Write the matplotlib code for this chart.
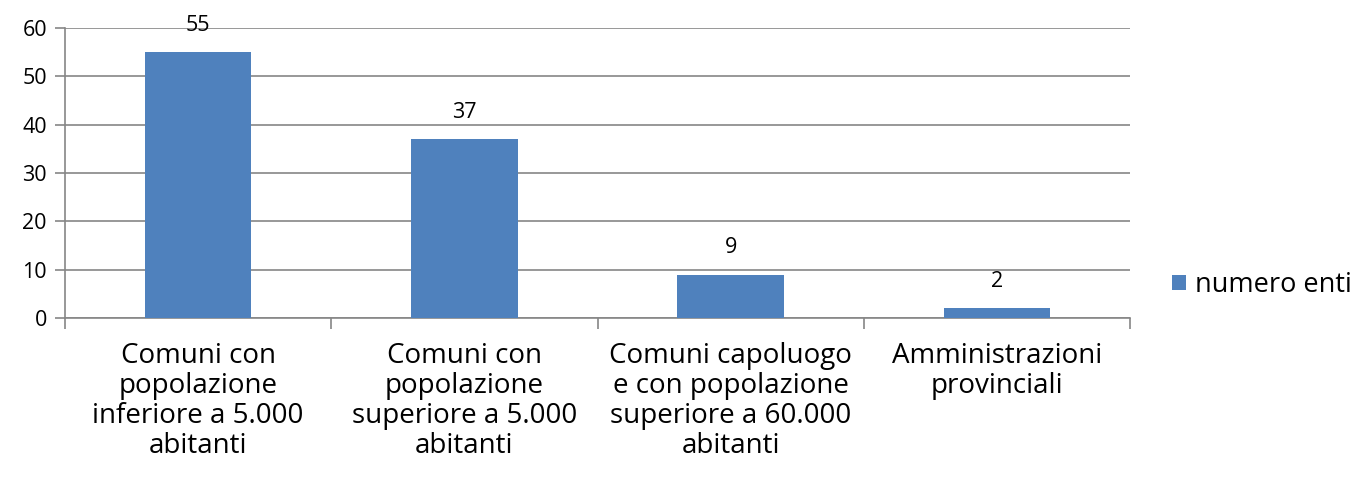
import matplotlib.pyplot as plt
import numpy as np

categorie = ["Comuni con\npopolazione\ninferiore a 5.000\nabitanti",
             "Comuni con\npopolazione\nsuperiore a 5.000\nabitanti",
             "Comuni capoluogo\ne con popolazione\nsuperiore a 60.000\nabitanti",
             "Amministrazioni\nprovinciali"]
numero_enti = [55, 37, 9, 2]
yticks = [0, 10, 20, 30, 40, 50, 60]

plt.rcParams['font.family'] = ['Open Sans', 'DejaVu Sans']
grey = '#868686'
blue = '#4f81bd'

fig = plt.figure(figsize=(13.64, 4.88), dpi=100)
ax = fig.add_axes([65/1364, 1-318/488, (1130-65)/1364, (318-28)/488])

x = np.arange(len(categorie))
bars = ax.bar(x, numero_enti, width=0.4, color=blue, label='numero enti', zorder=3)
for b, v in zip(bars, numero_enti):
    ax.text(b.get_x() + b.get_width()/2, v + 5.6, str(v), ha='center', va='center',
            fontsize=15.5, zorder=4)

ax.set_xlim(-0.5, len(categorie) - 0.5)
ax.set_ylim(0, 60)
ax.set_yticks(yticks)
ax.tick_params(axis='y', labelsize=15.5, length=7, color=grey, width=1.2, pad=6)
ax.set_xticks(np.arange(len(categorie) + 1) - 0.5)
ax.set_xticklabels([])
ax.set_xticks(x, minor=True)
ax.set_xticklabels(categorie, minor=True, fontsize=20, linespacing=1.1)
ax.tick_params(axis='x', which='major', length=8, color=grey, width=1.2)
ax.tick_params(axis='x', which='minor', length=0, pad=17)
ax.grid(axis='y', color=grey, linewidth=1.2, zorder=0)
for s in ['top', 'right']:
    ax.spines[s].set_visible(False)
for s in ['left', 'bottom']:
    ax.spines[s].set_color(grey)
    ax.spines[s].set_linewidth(1.2)

fig.legend(loc='center left', bbox_to_anchor=(1172/1364, 1-285/488), frameon=False,
           fontsize=19.5, handlelength=0.5, handleheight=0.5, handletextpad=0.35,
           borderpad=0, borderaxespad=0)

fig.savefig('out.png', dpi=100)
